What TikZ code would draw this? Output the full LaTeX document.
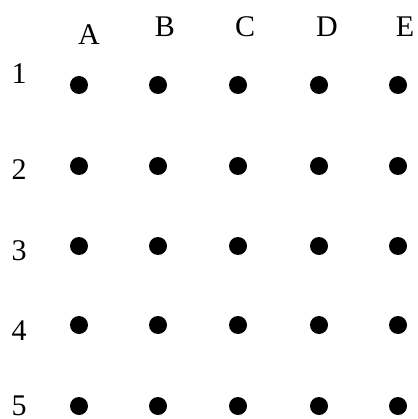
\documentclass[tikz,border=0pt]{standalone}
\usepackage{fontspec}
\setmainfont{Liberation Serif}
\begin{document}
\begin{tikzpicture}[x=1pt,y=-1pt,
  dotnode/.style={circle,fill=black,inner sep=0pt,minimum size=18pt},
  lbl/.style={inner sep=0pt,anchor=base,font=\fontsize{30}{36}\selectfont}]
\useasboundingbox (0,0) rectangle (417,419);
% column labels
\node[lbl] (cA) at (89,45) {A};
\node[lbl] (cB) at (165,37) {B};
\node[lbl] (cC) at (245,37) {C};
\node[lbl] (cD) at (327,37) {D};
\node[lbl] (cE) at (405,37) {E};
% row labels
\node[lbl] (r1) at (19,84) {1};
\node[lbl] (r2) at (19,180) {2};
\node[lbl] (r3) at (19,260) {3};
\node[lbl] (r4) at (19,340) {4};
\node[lbl] (r5) at (19,415) {5};
% dots
\foreach \c/\x in {A/79,B/158,C/238,D/319,E/398}{
  \foreach \r/\y in {1/85,2/166,3/246,4/325,5/406}{
    \node[dotnode] (d\c\r) at (\x,\y) {};
  }
}
\end{tikzpicture}
\end{document}
